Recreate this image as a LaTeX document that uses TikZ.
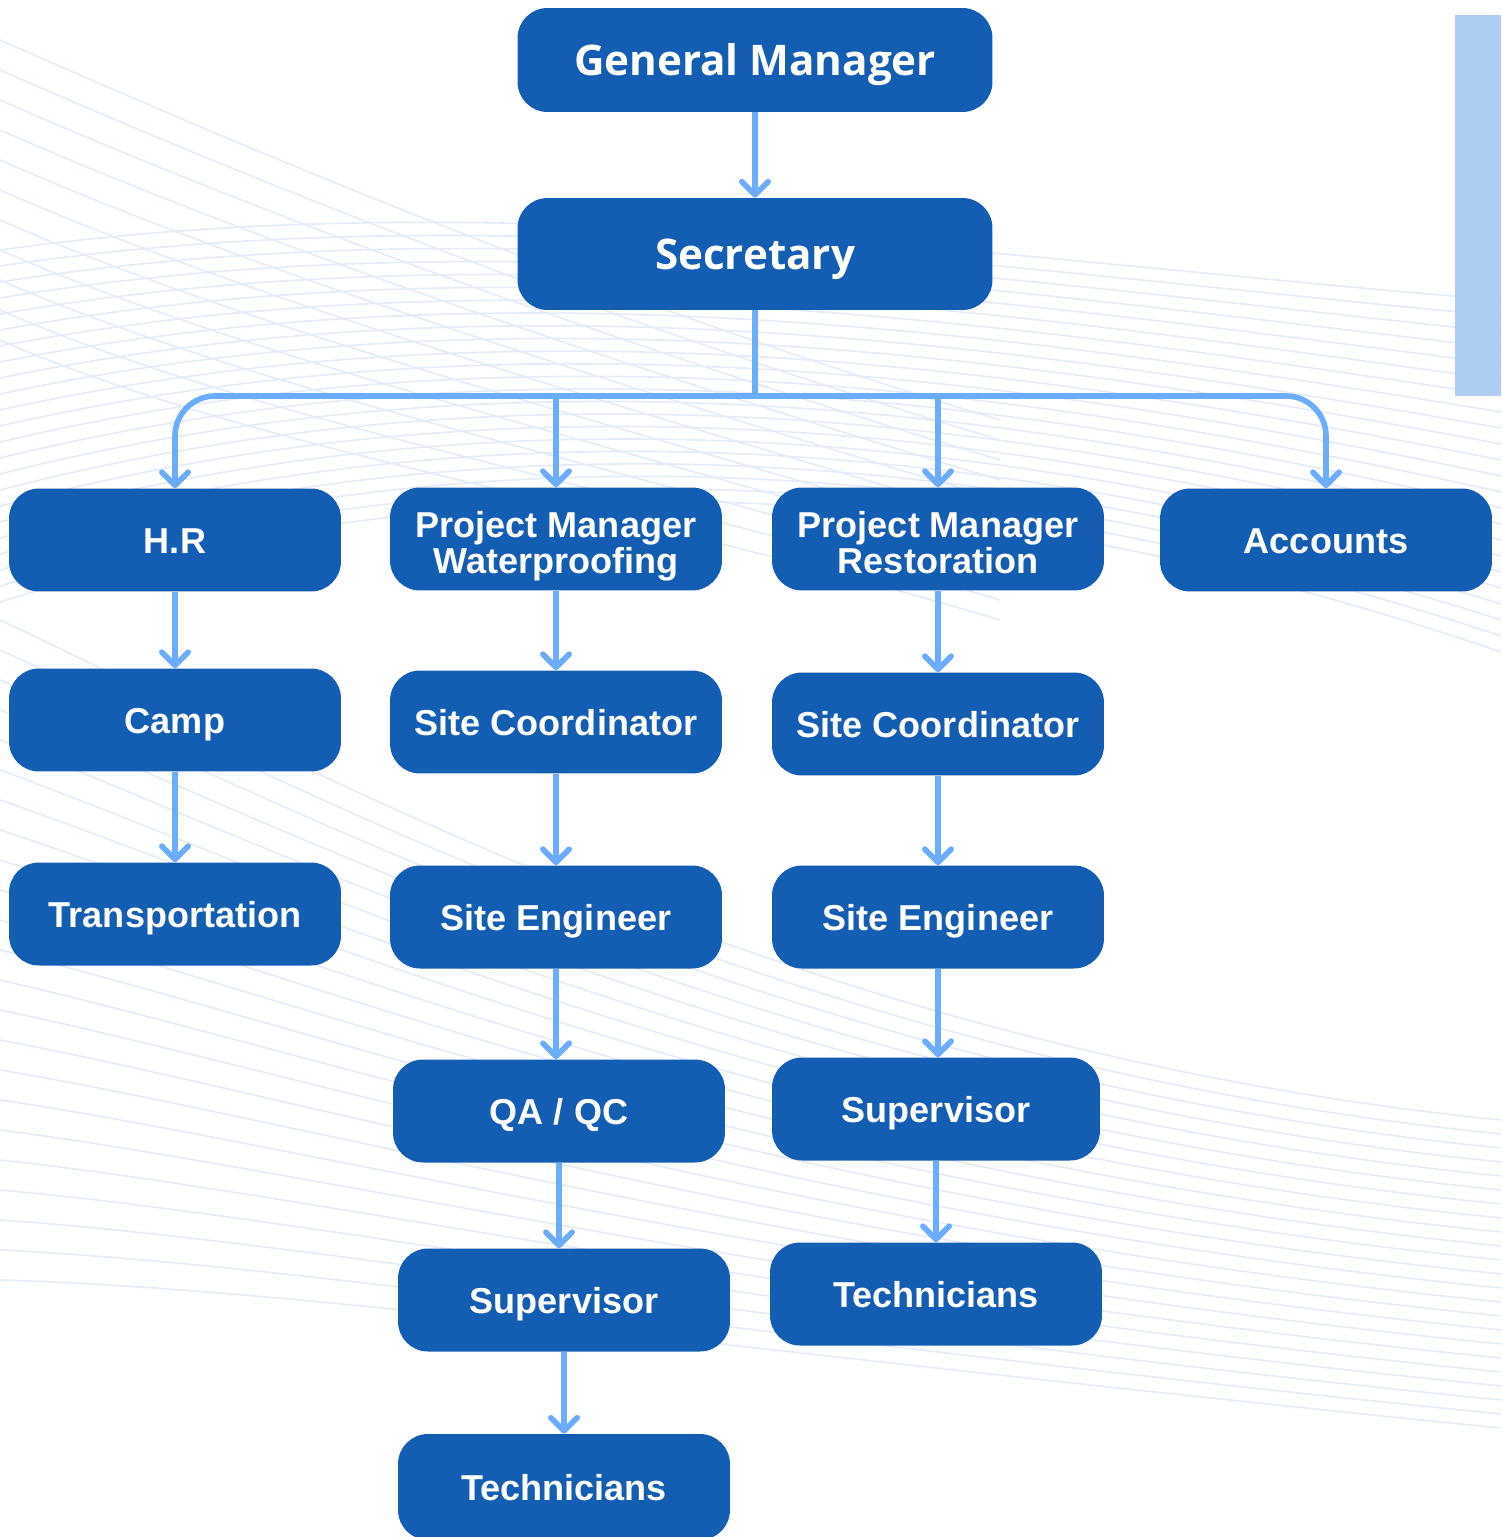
\documentclass[tikz,border=0pt]{standalone}
\usepackage{fontspec}
\setmainfont{Liberation Sans}
\newfontfamily\headfont{Open Sans}
\usetikzlibrary{arrows.meta, positioning}
\definecolor{cBox}{RGB}{19,93,179}
\definecolor{cLink}{RGB}{108,172,252}
\definecolor{cBar}{RGB}{174,205,242}
\definecolor{cWave}{RGB}{226,235,247}

% two lines of text, kept centred on the cap heights
\newcommand{\twoline}[2]{\rule{0pt}{23.7pt}#1\\#2\rule[-5pt]{0pt}{5pt}}

\tikzset{
  orgbox/.style={fill=cBox, text=white, rounded corners=0.6cm, minimum width=6.64cm,
    minimum height=2.06cm, inner sep=0pt, align=center, text height=14.8pt, text depth=0pt,
    font=\fontsize{20.5}{20.5}\selectfont\bfseries},
  pmbox/.style={orgbox, text height=, text depth=},
  headbox/.style={orgbox, minimum width=9.5cm, text height=17.1pt,
    font=\headfont\fontsize{24}{28}\selectfont\bfseries},
  link/.style={draw=cLink, line width=3.2pt, -{Straight Barb[length=7.5pt,width=15pt,round]}},
  wire/.style={draw=cLink, line width=3.2pt},
  wave/.style={draw=cWave, line width=0.9pt}
}

\begin{document}
\begin{tikzpicture}[x=0.02cm, y=-0.02cm]
    \useasboundingbox (0,0) rectangle (1501,1537);

    % faint background waves
    \foreach \k in {0,...,22}
        \draw[wave] (0,250+\k*16) .. controls (500,180+\k*12) and (1000,260+\k*10) .. (1501,300+\k*16);
    \foreach \k in {0,...,22}
        \draw[wave] (0,620+\k*30) .. controls (300,760+\k*24) and (800,1050+\k*14) .. (1501,1120+\k*14);
    \foreach \k in {0,...,10}
        \draw[wave] (0,40+\k*30) .. controls (250,150+\k*30) and (600,300+\k*20) .. (1000,420+\k*20);

    % side bar
    \fill[cBar] (1455,15) rectangle (1501,396);

    % top of chart
    \node[headbox, minimum height=2.08cm] (gm) at (755,60) {General Manager};
    \node[headbox, minimum height=2.24cm] (sec) at (755,254) {Secretary};

    % departments
    \node[orgbox] (hr) at (175,540) {H.R};
    \node[pmbox] (pmw) at (556,539) {\twoline{Project Manager}{Waterproofing}};
    \node[pmbox] (pmr) at (938,539) {\twoline{Project Manager}{Restoration}};
    \node[orgbox] (acc) at (1326,540) {Accounts};

    % H.R column
    \node[orgbox] (camp) at (175,720) {Camp};
    \node[orgbox] (trans) at (175,914) {Transportation};

    % waterproofing column
    \node[orgbox] (scw) at (556,722) {Site Coordinator};
    \node[orgbox] (sew) at (556,917) {Site Engineer};
    \node[orgbox] (qa) at (559,1111) {QA / QC};
    \node[orgbox] (supw) at (564,1300) {Supervisor};
    \node[orgbox, minimum height=2.12cm] (techw) at (564,1487) {Technicians};

    % restoration column
    \node[orgbox] (scr) at (938,724) {Site Coordinator};
    \node[orgbox] (ser) at (938,917) {Site Engineer};
    \node[orgbox, minimum width=6.56cm] (supr) at (936,1109) {Supervisor};
    \node[orgbox] (techr) at (936,1294) {Technicians};

    % connections
    \draw[link] (gm) -- (sec);
    \coordinate (bus) at (755,396);
    \draw[wire] (sec.south) -- (bus);
    \draw[link, rounded corners=0.8cm] (bus) -| (hr.north);
    \draw[link, rounded corners=0.8cm] (bus) -| (acc.north);
    \draw[link] (bus -| pmw.north) -- (pmw.north);
    \draw[link] (bus -| pmr.north) -- (pmr.north);

    \draw[link] (hr) -- (camp);
    \draw[link] (camp) -- (trans);

    \draw[link] (pmw) -- (scw);
    \draw[link] (scw) -- (sew);
    \draw[link] (sew.south) -- (sew.south |- qa.north);
    \draw[link] (qa.south) -- (qa.south |- supw.north);
    \draw[link] (supw) -- (techw);

    \draw[link] (pmr) -- (scr);
    \draw[link] (scr) -- (ser);
    \draw[link] (ser.south) -- (ser.south |- supr.north);
    \draw[link] (supr) -- (techr);
\end{tikzpicture}
\end{document}
